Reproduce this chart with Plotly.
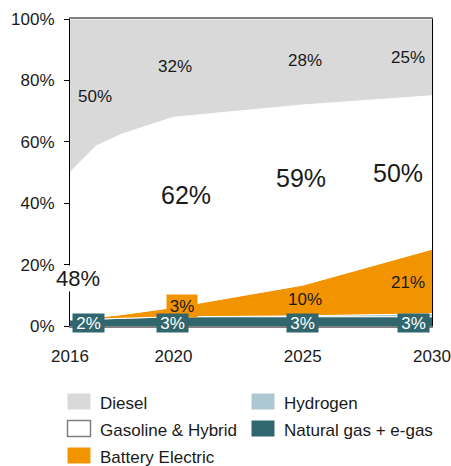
import plotly.graph_objects as go

# ---------------- data ----------------
years = [2016, 2017, 2018, 2020, 2025, 2030]
natural_gas = [2.0, 2.2, 2.5, 3.0, 3.0, 3.0]
hydrogen = [0.0, 0.0, 0.0, 0.0, 0.3, 1.0]
battery_electric = [0.2, 0.6, 1.2, 3.0, 10.0, 21.0]
gasoline_hybrid = [47.8, 55.8, 58.8, 62.0, 58.7, 50.0]
diesel = [50.0, 41.4, 37.5, 32.0, 28.0, 25.0]

x_ticks = [2016, 2020, 2025, 2030]
y_ticks = [0, 20, 40, 60, 80, 100]
y_tick_labels = ["0%", "20%", "40%", "60%", "80%", "100%"]

# labels: (year, y, text)
diesel_labels = [(2016.97, 74.6, "50%"), (2020.06, 84.4, "32%"),
                 (2025.09, 86.6, "28%"), (2029.07, 87.6, "25%")]
gasoline_labels = [(2020.49, 42.7, "62%"), (2024.93, 48.2, "59%"),
                   (2028.68, 49.8, "50%")]
gasoline_first = (2016.31, 15.6, "48%")
bev_labels = [(2025.09, 8.5, "10%"), (2029.07, 14.3, "21%")]
bev_box_label = (2020.33, 6.6, "3%")
ng_labels = [(2016.73, 1.0, "2%"), (2019.98, 1.0, "3%"),
             (2025.0, 1.0, "3%"), (2029.27, 1.0, "3%")]

legend_col1 = ["Diesel", "Gasoline & Hybrid", "Battery Electric"]
legend_col2 = ["Hydrogen", "Natural gas + e-gas"]

# ---------------- style ----------------
C_DIESEL = "#d9d9d9"
C_GAS = "#ffffff"
C_BEV = "#f29400"
C_H2 = "#adc7d3"
C_NG = "#30676f"
FONT = "Liberation Sans, Arial, sans-serif"
TXT = "#1a1a1a"

fig = go.Figure()
series = [
    ("Natural gas + e-gas", natural_gas, C_NG),
    ("Hydrogen", hydrogen, C_H2),
    ("Battery Electric", battery_electric, C_BEV),
    ("Gasoline & Hybrid", gasoline_hybrid, C_GAS),
    ("Diesel", diesel, C_DIESEL),
]
for name, vals, col in series:
    fig.add_trace(go.Scatter(
        x=years, y=vals, name=name, mode="lines", stackgroup="one",
        fillcolor=col, line=dict(color="white", width=1),
        showlegend=False, hoverinfo="skip"))

annotations = []
for x, y, t in diesel_labels:
    annotations.append(dict(x=x, y=y, text=t, showarrow=False,
                            font=dict(size=17, color=TXT, family=FONT)))
for x, y, t in gasoline_labels:
    annotations.append(dict(x=x, y=y, text=t, showarrow=False,
                            font=dict(size=25, color=TXT, family=FONT)))
x, y, t = gasoline_first
annotations.append(dict(x=x, y=y, text=t, showarrow=False, bgcolor="white",
                        borderpad=0, font=dict(size=22, color=TXT, family=FONT)))
for x, y, t in bev_labels:
    annotations.append(dict(x=x, y=y, text=t, showarrow=False,
                            font=dict(size=17, color=TXT, family=FONT)))
x, y, t = bev_box_label
annotations.append(dict(x=x, y=y, text=t, showarrow=False, bgcolor=C_BEV,
                        width=30, height=22, borderpad=0,
                        font=dict(size=17, color=TXT, family=FONT)))
for x, y, t in ng_labels:
    annotations.append(dict(x=x, y=y, text=t, showarrow=False, bgcolor=C_NG,
                            width=31, height=18, borderpad=0,
                            font=dict(size=17, color="white", family=FONT)))

# manual legend (page pixel -> paper conversion; plot area spans 70..432 x 19..326)
L, T, PW, PH = 70, 19, 362, 307
def px(xp):
    return (xp - L) / PW
def py(yp):
    return (T + PH - yp) / PH

shapes = []
rows_y = [401.5, 428.5, 455.5]
col1_colors = [C_DIESEL, C_GAS, C_BEV]
col2_colors = [C_H2, C_NG]
for i, (name, col) in enumerate(zip(legend_col1, col1_colors)):
    yc = rows_y[i]
    shapes.append(dict(type="rect", xref="paper", yref="paper",
                       x0=px(67.5), x1=px(90.5), y0=py(yc - 8), y1=py(yc + 8),
                       fillcolor=col,
                       line=dict(color="#7f7f7f" if col == C_GAS else col,
                                 width=1.5 if col == C_GAS else 0)))
    annotations.append(dict(xref="paper", yref="paper", x=px(98), y=py(yc + 1.5),
                            xanchor="left", yanchor="middle", text=name,
                            showarrow=False,
                            font=dict(size=17, color=TXT, family=FONT)))
for i, (name, col) in enumerate(zip(legend_col2, col2_colors)):
    yc = rows_y[i]
    shapes.append(dict(type="rect", xref="paper", yref="paper",
                       x0=px(251.5), x1=px(274.5), y0=py(yc - 8), y1=py(yc + 8),
                       fillcolor=col, line=dict(width=0)))
    annotations.append(dict(xref="paper", yref="paper", x=px(282), y=py(yc + 1.5),
                            xanchor="left", yanchor="middle", text=name,
                            showarrow=False,
                            font=dict(size=17, color=TXT, family=FONT)))

fig.update_layout(
    width=451, height=466,
    margin=dict(l=70, r=19, t=19, b=140, autoexpand=False),
    paper_bgcolor="white", plot_bgcolor="white",
    font=dict(family=FONT, size=17, color=TXT),
    annotations=annotations, shapes=shapes,
    showlegend=False,
)
fig.update_xaxes(range=[2016, 2030], tickvals=x_ticks, automargin=False,
                 showgrid=False, zeroline=False, ticklabeloverflow="allow",
                 showline=True, linecolor="#808080", linewidth=2, mirror=True,
                 ticks="outside", ticklen=14, tickcolor="rgba(0,0,0,0)",
                 tickfont=dict(size=17, color=TXT, family=FONT))
fig.update_yaxes(range=[0, 100], tickvals=y_ticks, ticktext=y_tick_labels,
                 automargin=False,
                 showgrid=False, zeroline=False,
                 showline=True, linecolor="black", linewidth=1, mirror=True,
                 ticks="outside", ticklen=5, tickcolor="black",
                 ticklabelstandoff=6,
                 tickfont=dict(size=17, color=TXT, family=FONT))

# remove the default 8px page margin so the 451x466 figure fills the window
fig.write_html("out.html",
               config={"displayModeBar": False},
               post_script="document.body.style.margin='0px';"
                           "document.body.style.overflow='hidden';")
